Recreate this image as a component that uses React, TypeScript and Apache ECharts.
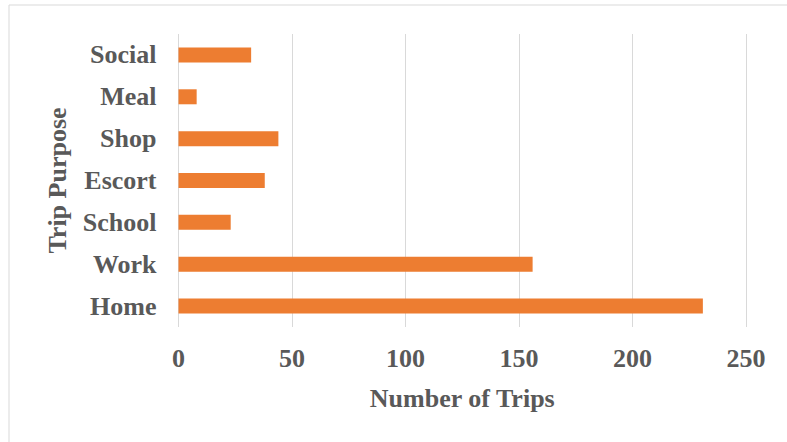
import React, { useEffect, useRef } from "react";
import * as echarts from "echarts";

const categories = ["Home", "Work", "School", "Escort", "Shop", "Meal", "Social"];
const trips = [231, 156, 23, 38, 44, 8, 32];
const xTicks = { min: 0, max: 250, interval: 50 };
const xTitle = "Number of Trips";
const yTitle = "Trip Purpose";

const FONT = '"Liberation Serif", "Times New Roman", serif';
const TEXT = "#595959";

export default function App() {
  const ref = useRef<HTMLDivElement>(null);
  useEffect(() => {
    if (!ref.current) return;
    const chart = echarts.init(ref.current, null, { renderer: "svg" });
    chart.setOption({
      animation: false,
      backgroundColor: "#ffffff",
      graphic: [
        {
          type: "rect",
          shape: { x: 9, y: 5, width: 900, height: 600 },
          style: { fill: "none", stroke: "#D9D9D9", lineWidth: 1 },
          silent: true,
        },
      ],
      grid: { left: 178.5, right: 41, top: 34, bottom: 115, containLabel: false },
      xAxis: {
        type: "value",
        min: xTicks.min,
        max: xTicks.max,
        interval: xTicks.interval,
        axisLine: { show: false },
        axisTick: { show: false },
        splitLine: { show: true, lineStyle: { color: "#D9D9D9", width: 1 } },
        axisLabel: {
          color: TEXT,
          fontFamily: FONT,
          fontWeight: "bold",
          fontSize: 26,
          margin: 18,
        },
        name: xTitle,
        nameLocation: "middle",
        nameGap: 58,
        nameTextStyle: {
          color: TEXT,
          fontFamily: FONT,
          fontWeight: "bold",
          fontSize: 26,
        },
      },
      yAxis: {
        type: "category",
        data: categories,
        axisLine: { show: false },
        axisTick: { show: false },
        splitLine: { show: false },
        axisLabel: {
          color: TEXT,
          fontFamily: FONT,
          fontWeight: "bold",
          fontSize: 26,
          margin: 22,
        },
        name: yTitle,
        nameLocation: "middle",
        nameGap: 108,
        nameRotate: 90,
        nameTextStyle: {
          color: TEXT,
          fontFamily: FONT,
          fontWeight: "bold",
          fontSize: 26,
        },
      },
      series: [
        {
          type: "bar",
          data: trips,
          barWidth: 15,
          itemStyle: { color: "#ED7D31" },
        },
      ],
    });
    return () => chart.dispose();
  }, []);
  return (
    <div
      ref={ref}
      style={{ position: "fixed", left: 0, top: 0, width: 787, height: 442 }}
    />
  );
}
